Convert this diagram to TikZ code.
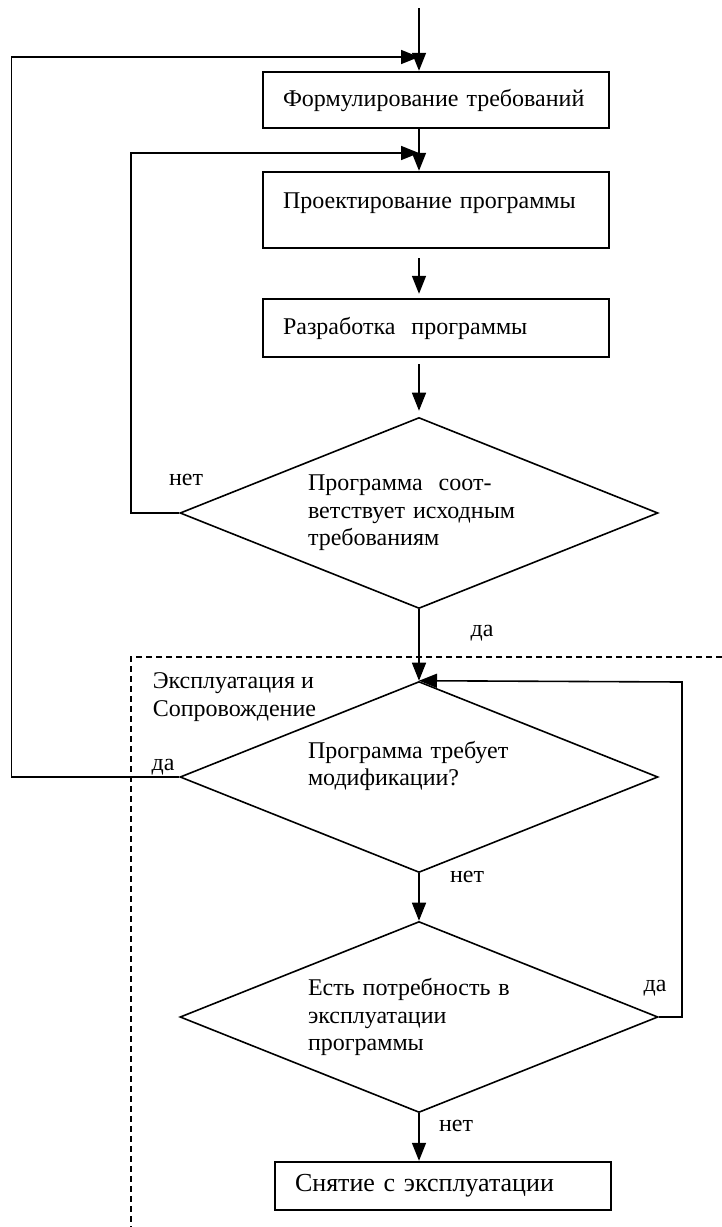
\documentclass[tikz,border=0pt]{standalone}
\usepackage{fontspec}
\setmainfont{Liberation Serif}
\usetikzlibrary{shapes.geometric}
\usetikzlibrary{arrows.meta}

\begin{document}
\begin{tikzpicture}[
    x=0.5pt, y=-0.5pt,
    ->, % all connectors are directed
    >={Triangle[length=9pt,width=7pt]}, % arrow head style
    line width=0.8pt,
    font=\fontsize{12}{13.8}\selectfont,
    % Styling for the nodes
    procBox/.style={
        rectangle,
        draw,
        line width=1.2pt,
        text width=153pt,
        align=left,
        inner xsep=10pt,
        inner ysep=0pt
    },
    decision/.style={
        diamond,
        draw,
        shape aspect=2.5,
        minimum width=239pt,
        minimum height=95.5pt,
        inner sep=0pt,
        text width=111pt,
        align=left
    },
    answer/.style={inner sep=0pt}
]
    \useasboundingbox (0,0) rectangle (722,1227);

    % Define Nodes
    \coordinate (top) at (419,8);
    \node[procBox, minimum height=28pt] (req) at (436,100) {Формулирование требований};
    \node[procBox, minimum height=38pt, text height=18pt, text depth=20pt] (design) at (436,210) {Проектирование программы};
    \node[procBox, minimum height=29pt] (develop) at (436,328) {Разработка\ \ программы};
    \node[decision] (fit) at (419,513) {Программа\ \ соот-\\ветствует исходным\\требованиям};
    \node[decision] (modify) at (419,777) {Программа требует\\модификации?\\\mbox{}};
    \node[decision] (need) at (419,1017) {Есть потребность в\\эксплуатации\\программы};
    \node[procBox, text width=148pt, minimum height=24pt, font=\fontsize{13}{15}\selectfont] (retire) at (443,1186) {Снятие с эксплуатации};

    % Bends of the loops
    \coordinate (outerBend) at (11.5,57);
    \coordinate (innerBend) at (131,153);
    \coordinate (rightBend) at (682,682);

    % Answers
    \node[answer] (noFit) at (186,480) {нет};
    \node[answer] (yesFit) at (482,633) {да};
    \node[answer] (yesModify) at (163,767) {да};
    \node[answer] (noModify) at (467,877) {нет};
    \node[answer] (yesNeed) at (655,988) {да};
    \node[answer] (noNeed) at (456,1126) {нет};
    \node[answer, anchor=west, align=left] (stage) at (152,697) {Эксплуатация и\\Сопровождение};

    % Draw Edges
    \draw (top) -- (top |- req.north);
    \draw (req.south -| top) -- (design.north -| top);
    \draw[shorten <=4.5pt, shorten >=2pt] (design.south -| top) -- (develop.north -| top);
    \draw[shorten <=3pt, shorten >=3pt] (develop.south -| top) -- (fit.north);
    \draw (fit.south) -- (modify.north);
    \draw (modify.south) -- (need.north);
    \draw (need.south) -- (retire.north -| top);

    % Loops back
    \draw (fit.west) -| (innerBend) -- (top |- innerBend);
    \draw (modify.west) -| (outerBend) -- (top |- outerBend);
    \draw (need.east) -| (rightBend) -- (modify.north);

    % Stage border
    \draw[-, dashed, dash pattern=on 3pt off 2pt] (722,657) -- (131,657) -- (131,1227);

\end{tikzpicture}
\end{document}
